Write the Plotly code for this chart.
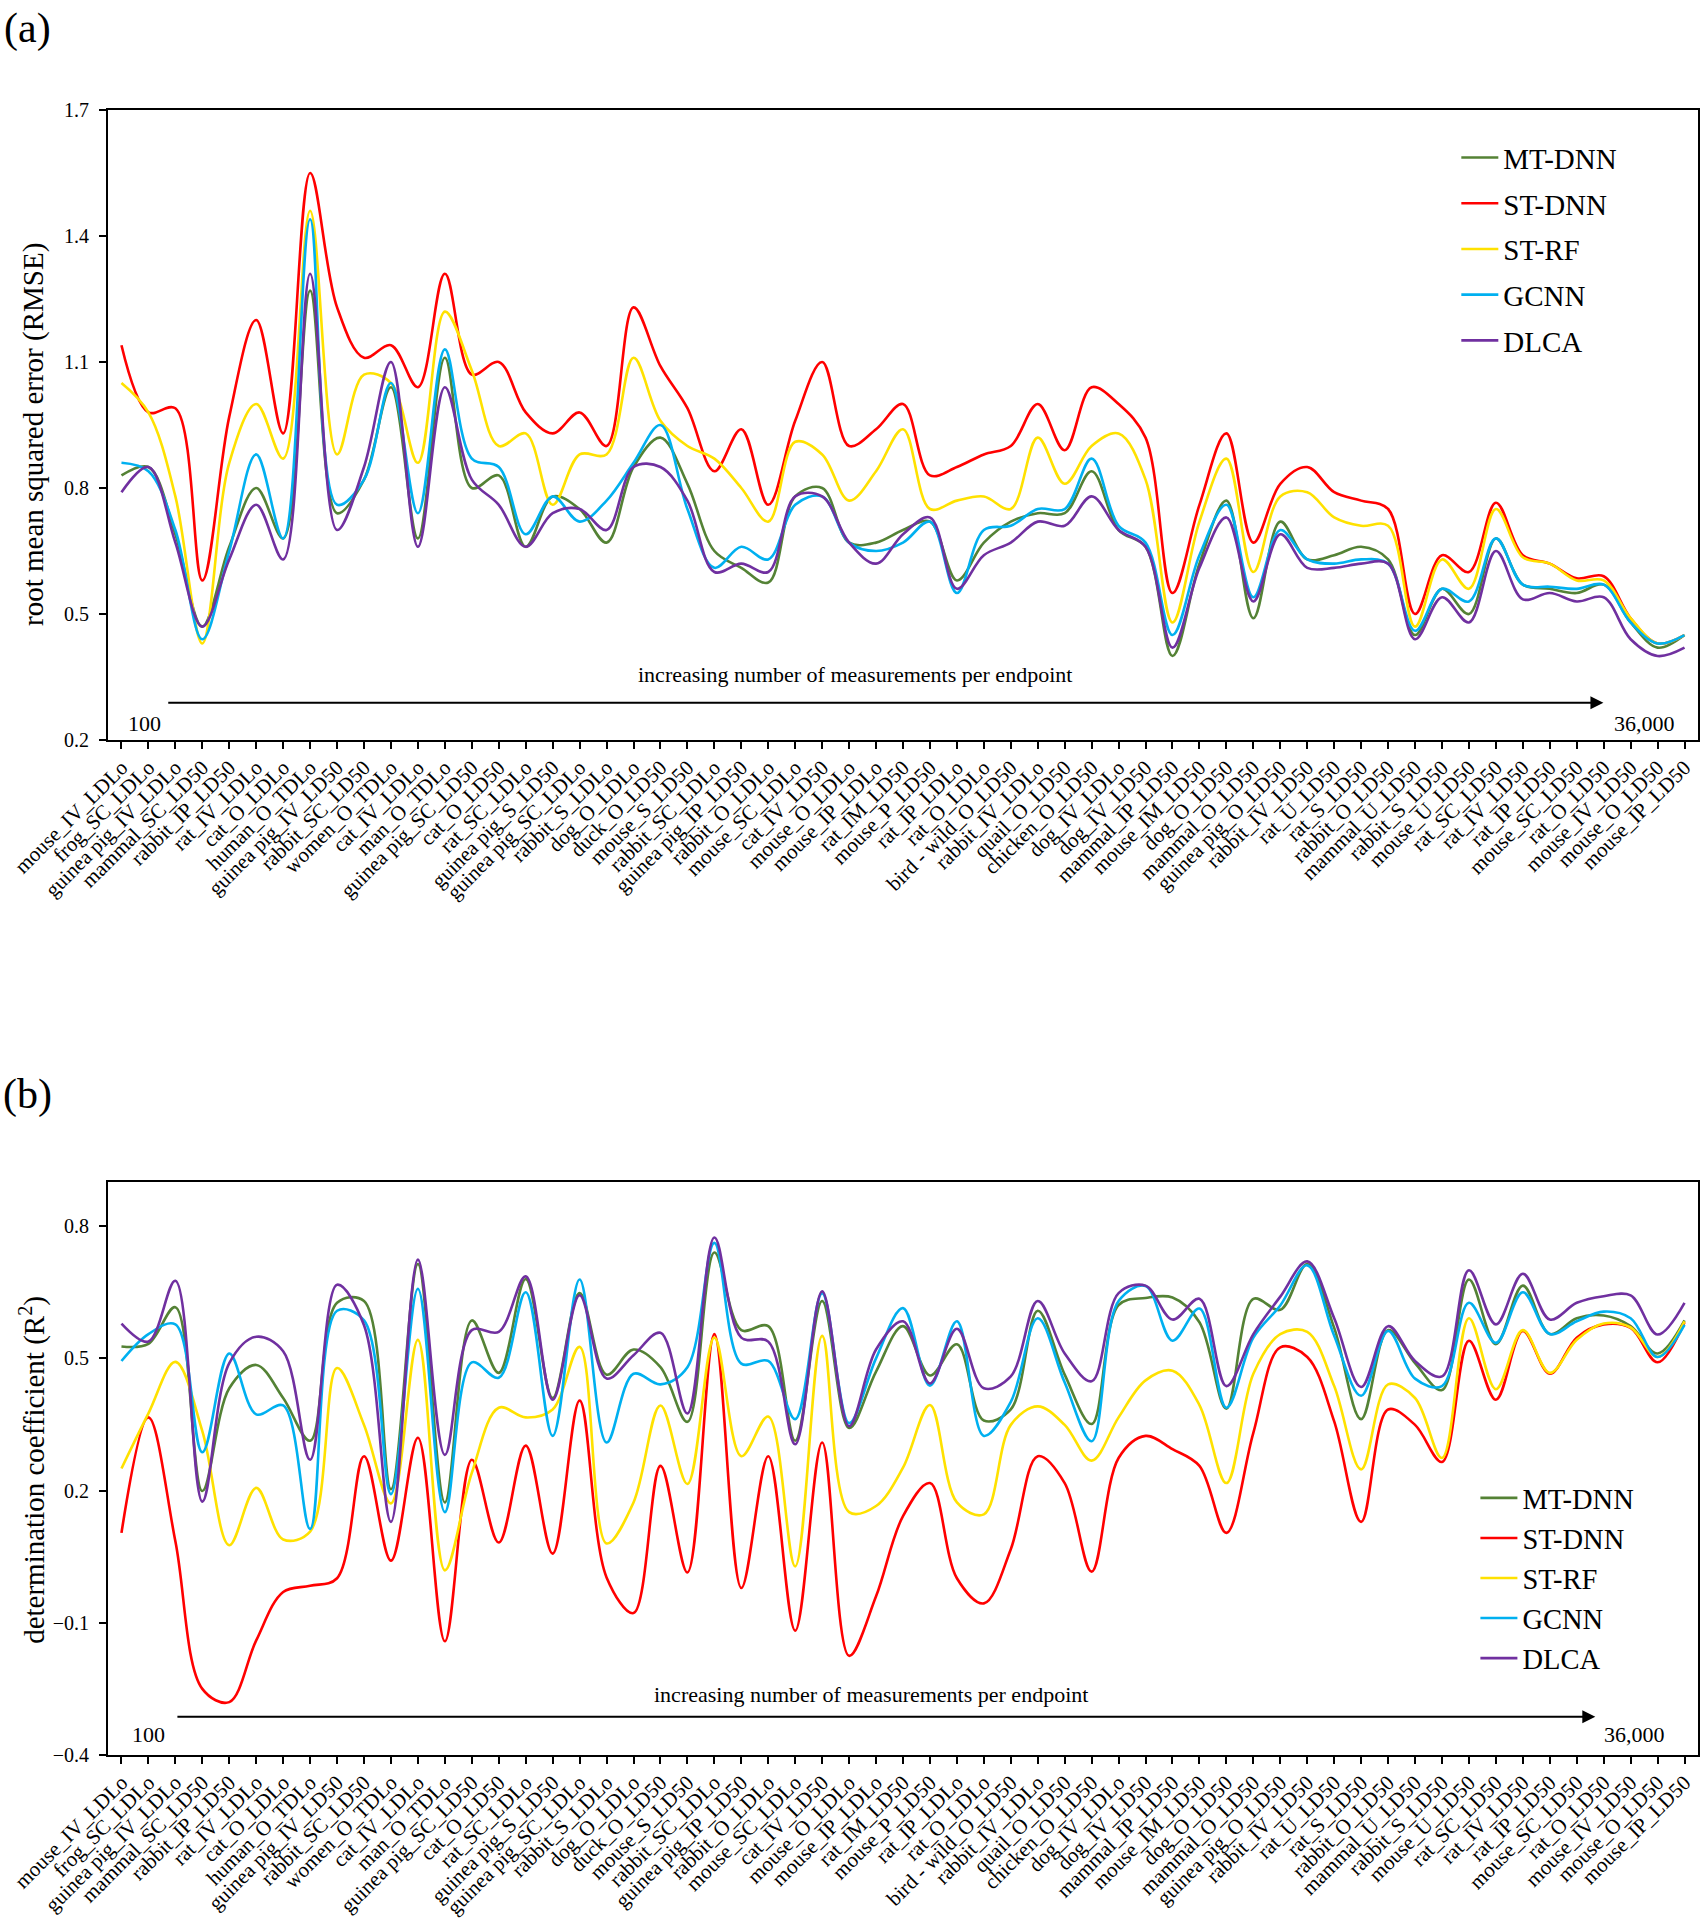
import plotly.graph_objects as go

categories = [
    "mouse_IV_LDLo", "frog_SC_LDLo", "guinea pig_IV_LDLo", "mammal_SC_LD50", "rabbit_IP_LD50",
    "rat_IV_LDLo", "cat_O_LDLo", "human_O_TDLo", "guinea pig_IV_LD50", "rabbit_SC_LD50",
    "women_O_TDLo", "cat_IV_LDLo", "man_O_TDLo", "guinea pig_SC_LD50", "cat_O_LD50",
    "rat_SC_LDLo", "guinea pig_S_LD50", "guinea pig_SC_LDLo", "rabbit_S_LDLo", "dog_O_LDLo",
    "duck_O_LD50", "mouse_S_LD50", "rabbit_SC_LDLo", "guinea pig_IP_LD50", "rabbit_O_LDLo",
    "mouse_SC_LDLo", "cat_IV_LD50", "mouse_O_LDLo", "mouse_IP_LDLo", "rat_IM_LD50",
    "mouse_P_LD50", "rat_IP_LDLo", "rat_O_LDLo", "bird - wild_O_LD50", "rabbit_IV_LDLo",
    "quail_O_LD50", "chicken_O_LD50", "dog_IV_LDLo", "dog_IV_LD50", "mammal_IP_LD50",
    "mouse_IM_LD50", "dog_O_LD50", "mammal_O_LD50", "guinea pig_O_LD50", "rabbit_IV_LD50",
    "rat_U_LD50", "rat_S_LD50", "rabbit_O_LD50", "mammal_U_LD50", "rabbit_S_LD50",
    "mouse_U_LD50", "rat_SC_LD50", "rat_IV_LD50", "rat_IP_LD50", "mouse_SC_LD50",
    "rat_O_LD50", "mouse_IV_LD50", "mouse_O_LD50", "mouse_IP_LD50",
]

methods = ["MT-DNN", "ST-DNN", "ST-RF", "GCNN", "DLCA"]
colors = ["#548235", "#FF0000", "#FFE100", "#00B0F0", "#7030A0"]

# (a) RMSE
rmse_mt_dnn = [0.83, 0.85, 0.69, 0.47, 0.66, 0.80, 0.68, 1.27, 0.74, 0.82,
               1.04, 0.68, 1.11, 0.80, 0.83, 0.66, 0.78, 0.75, 0.67, 0.85,
               0.92, 0.81, 0.65, 0.61, 0.575, 0.78, 0.80, 0.67, 0.67, 0.70,
               0.72, 0.58, 0.67, 0.72, 0.74, 0.74, 0.84, 0.70, 0.66, 0.40,
               0.62, 0.77, 0.49, 0.72, 0.63, 0.64, 0.66, 0.63, 0.45, 0.56,
               0.50, 0.68, 0.57, 0.56, 0.55, 0.57, 0.48, 0.42, 0.45]
rmse_st_dnn = [1.14, 0.98, 0.99, 0.58, 0.97, 1.20, 0.93, 1.55, 1.23, 1.11,
               1.14, 1.04, 1.31, 1.07, 1.10, 0.98, 0.93, 0.98, 0.90, 1.23,
               1.09, 0.99, 0.84, 0.94, 0.76, 0.96, 1.10, 0.90, 0.94, 1.00,
               0.83, 0.85, 0.88, 0.90, 1.00, 0.89, 1.04, 1.00, 0.92, 0.55,
               0.76, 0.93, 0.67, 0.81, 0.85, 0.79, 0.77, 0.75, 0.50, 0.64,
               0.60, 0.765, 0.64, 0.62, 0.585, 0.59, 0.49, 0.43, 0.45]
rmse_st_rf = [1.05, 0.98, 0.78, 0.43, 0.86, 1.00, 0.87, 1.46, 0.88, 1.07,
              1.05, 0.86, 1.22, 1.08, 0.90, 0.93, 0.76, 0.88, 0.88, 1.11,
              0.96, 0.90, 0.87, 0.80, 0.72, 0.91, 0.88, 0.77, 0.84, 0.94,
              0.75, 0.77, 0.78, 0.75, 0.92, 0.81, 0.90, 0.93, 0.82, 0.48,
              0.72, 0.87, 0.60, 0.78, 0.79, 0.73, 0.71, 0.71, 0.47, 0.63,
              0.56, 0.75, 0.635, 0.62, 0.58, 0.58, 0.49, 0.43, 0.45]
rmse_gcnn = [0.86, 0.84, 0.70, 0.44, 0.65, 0.88, 0.68, 1.44, 0.76, 0.82,
             1.05, 0.74, 1.13, 0.87, 0.85, 0.69, 0.78, 0.72, 0.77, 0.86,
             0.95, 0.75, 0.61, 0.66, 0.63, 0.76, 0.78, 0.67, 0.65, 0.67,
             0.72, 0.55, 0.70, 0.71, 0.75, 0.75, 0.87, 0.71, 0.67, 0.45,
             0.64, 0.76, 0.54, 0.70, 0.63, 0.62, 0.63, 0.62, 0.46, 0.56,
             0.53, 0.68, 0.57, 0.565, 0.56, 0.57, 0.48, 0.43, 0.45]
rmse_dlca = [0.79, 0.85, 0.67, 0.47, 0.63, 0.76, 0.63, 1.31, 0.70, 0.85,
             1.10, 0.66, 1.04, 0.82, 0.76, 0.66, 0.74, 0.75, 0.70, 0.85,
             0.85, 0.77, 0.60, 0.62, 0.60, 0.78, 0.78, 0.67, 0.62, 0.69,
             0.73, 0.56, 0.64, 0.67, 0.72, 0.71, 0.78, 0.70, 0.66, 0.42,
             0.61, 0.73, 0.53, 0.69, 0.61, 0.61, 0.62, 0.62, 0.44, 0.54,
             0.48, 0.65, 0.535, 0.55, 0.53, 0.54, 0.44, 0.40, 0.42]

# (b) R^2
r2_mt_dnn = [0.527, 0.533, 0.616, 0.199, 0.432, 0.485, 0.41, 0.313, 0.626, 0.63,
             0.203, 0.714, 0.173, 0.586, 0.467, 0.68, 0.41, 0.648, 0.463, 0.52,
             0.48, 0.356, 0.74, 0.564, 0.573, 0.313, 0.63, 0.342, 0.47, 0.573,
             0.461, 0.532, 0.359, 0.384, 0.608, 0.463, 0.351, 0.621, 0.637, 0.638,
             0.582, 0.386, 0.635, 0.61, 0.714, 0.569, 0.362, 0.564, 0.489, 0.428,
             0.679, 0.532, 0.665, 0.555, 0.591, 0.597, 0.573, 0.511, 0.586]
r2_st_dnn = [0.104, 0.366, 0.085, -0.25, -0.28, -0.14, -0.03, -0.016, 0.001, 0.278,
             0.041, 0.32, -0.142, 0.27, 0.082, 0.302, 0.057, 0.404, 0.003, -0.078,
             0.256, 0.014, 0.555, -0.021, 0.278, -0.118, 0.309, -0.175, -0.04, 0.142,
             0.217, 0.001, -0.056, 0.067, 0.278, 0.217, 0.016, 0.274, 0.324, 0.294,
             0.256, 0.104, 0.331, 0.525, 0.503, 0.357, 0.129, 0.384, 0.349, 0.265,
             0.54, 0.406, 0.562, 0.465, 0.547, 0.577, 0.569, 0.491, 0.582]
r2_st_rf = [0.25, 0.375, 0.492, 0.335, 0.076, 0.206, 0.089, 0.107, 0.478, 0.349,
            0.171, 0.542, 0.019, 0.24, 0.388, 0.366, 0.384, 0.526, 0.08, 0.173,
            0.393, 0.215, 0.547, 0.278, 0.368, 0.028, 0.551, 0.151, 0.165, 0.252,
            0.394, 0.173, 0.146, 0.349, 0.391, 0.349, 0.268, 0.366, 0.45, 0.472,
            0.394, 0.217, 0.465, 0.555, 0.56, 0.437, 0.248, 0.441, 0.41, 0.274,
            0.591, 0.43, 0.564, 0.467, 0.542, 0.579, 0.57, 0.503, 0.584]
r2_gcnn = [0.494, 0.555, 0.577, 0.287, 0.511, 0.373, 0.393, 0.113, 0.608, 0.586,
           0.192, 0.658, 0.151, 0.491, 0.456, 0.65, 0.324, 0.679, 0.309, 0.465,
           0.441, 0.48, 0.762, 0.488, 0.494, 0.362, 0.648, 0.353, 0.50, 0.614,
           0.438, 0.584, 0.324, 0.401, 0.591, 0.445, 0.312, 0.63, 0.664, 0.54,
           0.613, 0.388, 0.547, 0.62, 0.711, 0.551, 0.415, 0.562, 0.454, 0.437,
           0.626, 0.535, 0.65, 0.555, 0.584, 0.606, 0.591, 0.503, 0.576]
r2_dlca = [0.579, 0.538, 0.676, 0.175, 0.489, 0.549, 0.516, 0.27, 0.667, 0.575,
           0.129, 0.724, 0.281, 0.564, 0.56, 0.686, 0.406, 0.643, 0.454, 0.507,
           0.558, 0.375, 0.774, 0.547, 0.538, 0.305, 0.652, 0.346, 0.52, 0.584,
           0.443, 0.567, 0.432, 0.459, 0.63, 0.511, 0.448, 0.648, 0.665, 0.588,
           0.635, 0.437, 0.555, 0.64, 0.72, 0.591, 0.435, 0.573, 0.494, 0.459,
           0.70, 0.577, 0.692, 0.588, 0.626, 0.641, 0.643, 0.554, 0.626]

rmse_series = [rmse_mt_dnn, rmse_st_dnn, rmse_st_rf, rmse_gcnn, rmse_dlca]
r2_series = [r2_mt_dnn, r2_st_dnn, r2_st_rf, r2_gcnn, r2_dlca]

FONT = "Liberation Serif"

fig = go.Figure()
for name, color, ya in zip(methods, colors, rmse_series):
    fig.add_trace(go.Scatter(
        x=categories, y=ya, mode="lines", name=name,
        line=dict(color=color, width=2.6, shape="spline", smoothing=1.0),
        xaxis="x", yaxis="y", legend="legend", legendgroup="a_" + name,
    ))
for name, color, yb in zip(methods, colors, r2_series):
    fig.add_trace(go.Scatter(
        x=categories, y=yb, mode="lines", name=name,
        line=dict(color=color, width=2.6, shape="spline", smoothing=1.0),
        xaxis="x2", yaxis="y2", legend="legend2", legendgroup="b_" + name,
    ))

xcommon = dict(
    type="category", categoryorder="array", categoryarray=categories,
    range=[-0.5, len(categories) - 0.5], showline=True, linecolor="black",
    linewidth=2, mirror=True, ticks="outside", ticklen=7, tickwidth=1.5,
    tickcolor="black", tickangle=-45, showgrid=False, zeroline=False,
    tickfont=dict(family=FONT, size=21, color="black"), automargin=False,
    ticklabelstandoff=-2,
)
ycommon = dict(
    showline=True, linecolor="black", linewidth=2, mirror=True,
    ticks="outside", ticklen=7, tickwidth=1.5, tickcolor="black",
    showgrid=False, zeroline=False, tickformat=".1f", dtick=0.3,
    tickfont=dict(family=FONT, size=20, color="black"), automargin=False,
    ticklabelstandoff=6,
)

fig.update_layout(
    width=1705, height=1920,
    margin=dict(l=108, r=7, t=110, b=165),
    paper_bgcolor="white", plot_bgcolor="white",
    font=dict(family=FONT, color="black"),
    xaxis=dict(domain=[0, 1], anchor="y", **xcommon),
    yaxis=dict(domain=[0.617, 1.0], anchor="x", range=[0.2, 1.7], tick0=0.2, **ycommon),
    xaxis2=dict(domain=[0, 1], anchor="y2", **xcommon),
    yaxis2=dict(domain=[0, 0.3483], anchor="x2", range=[-0.4, 0.9], tick0=-0.4, **ycommon),
    legend=dict(x=0.848, y=0.9865, xanchor="left", yanchor="top",
                font=dict(family=FONT, size=29, color="black"),
                bgcolor="rgba(0,0,0,0)", tracegroupgap=5, itemwidth=37),
    legend2=dict(x=0.860, y=0.1715, xanchor="left", yanchor="top",
                 font=dict(family=FONT, size=28.5, color="black"),
                 bgcolor="rgba(0,0,0,0)", tracegroupgap=0, itemwidth=37),
    showlegend=True,
)

ann = []
txt = dict(family=FONT, size=22, color="black")
# panel labels
ann.append(dict(text="(a)", x=-0.0509, y=1.0498, xref="paper", yref="paper",
                showarrow=False, xanchor="center", yanchor="middle",
                font=dict(family=FONT, size=42, color="black")))
ann.append(dict(text="(b)", x=-0.0509, y=0.4018, xref="paper", yref="paper",
                showarrow=False, xanchor="center", yanchor="middle",
                font=dict(family=FONT, size=42, color="black")))
# y-axis titles
ann.append(dict(text="root mean squared error (RMSE)", x=-0.0472, y=0.803,
                xref="paper", yref="paper", showarrow=False, textangle=-90,
                xanchor="center", yanchor="middle",
                font=dict(family=FONT, size=29, color="black")))
ann.append(dict(text="determination coefficient (R<sup>2</sup>)", x=-0.0472, y=0.1733,
                xref="paper", yref="paper", showarrow=False, textangle=-90,
                xanchor="center", yanchor="middle",
                font=dict(family=FONT, size=29, color="black")))
# panel (a) annotations
ann.append(dict(text="increasing number of measurements per endpoint", x=27.22, y=0.355,
                xref="x", yref="y", showarrow=False, font=txt))
ann.append(dict(text="", x=54.99, y=0.289, ax=1.68, ay=0.289, xref="x", yref="y",
                axref="x", ayref="y", showarrow=True, arrowhead=2, arrowsize=1.3,
                arrowwidth=2, arrowcolor="black", standoff=0))
ann.append(dict(text="100", x=0.87, y=0.240, xref="x", yref="y", showarrow=False, font=txt))
ann.append(dict(text="36,000", x=56.53, y=0.240, xref="x", yref="y", showarrow=False, font=txt))
# panel (b) annotations
ann.append(dict(text="increasing number of measurements per endpoint", x=27.81, y=-0.2625,
                xref="x2", yref="y2", showarrow=False, font=txt))
ann.append(dict(text="", x=54.69, y=-0.313, ax=2.02, ay=-0.313, xref="x2", yref="y2",
                axref="x2", ayref="y2", showarrow=True, arrowhead=2, arrowsize=1.3,
                arrowwidth=2, arrowcolor="black", standoff=0))
ann.append(dict(text="100", x=1.02, y=-0.353, xref="x2", yref="y2", showarrow=False, font=txt))
ann.append(dict(text="36,000", x=56.16, y=-0.353, xref="x2", yref="y2", showarrow=False, font=txt))

fig.update_layout(annotations=ann)

fig.write_html(
    "out.html",
    config={"displayModeBar": False},
    post_script="document.body.style.margin='0';document.body.style.overflow='hidden';",
)
